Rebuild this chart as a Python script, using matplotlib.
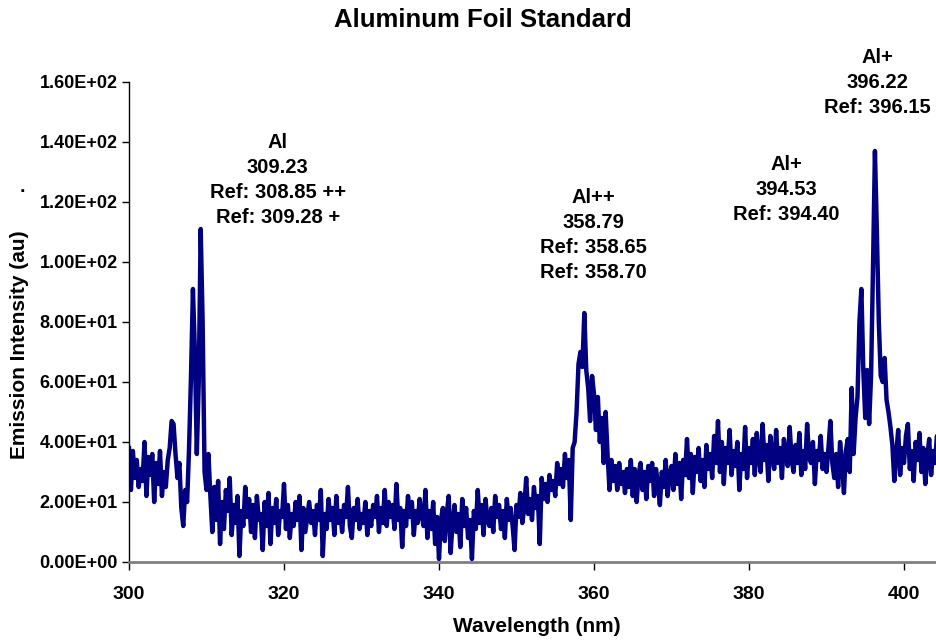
import numpy as np
import matplotlib
matplotlib.use("Agg")
import matplotlib.pyplot as plt
from matplotlib.ticker import FuncFormatter

# Spectrum, 0.25 nm steps from 300 to 405 nm
wl_start = 300.0
wl_step = 0.25
intensity = [
    38, 24, 37, 28, 34, 25, 31, 27, 40, 22, 35, 29, 36, 20, 33, 26, 37, 22, 30, 25,   # 300-304.75
    34, 38, 47, 46, 36, 28, 33, 18, 12, 24, 20, 38, 62, 91, 70, 36, 60, 111, 80, 30,  # 305-309.75
    24, 36, 22, 10, 25, 14, 27, 6, 20, 11, 24, 17, 28, 9, 19, 13, 22, 2, 17, 12,      # 310-314.75
    25, 15, 21, 10, 19, 8, 22, 14, 16, 4, 20, 12, 23, 6, 18, 13, 21, 9, 17, 15,       # 315-319.75
    26, 11, 19, 8, 16, 12, 20, 14, 22, 4, 18, 10, 15, 20, 13, 17, 9, 19, 14, 24,      # 320-324.75
    2, 16, 11, 21, 14, 18, 9, 22, 13, 17, 10, 19, 15, 25, 12, 8, 18, 14, 21, 11,      # 325-329.75
    16, 13, 20, 9, 17, 12, 19, 15, 22, 10, 18, 13, 24, 12, 20, 15, 19, 11, 26, 14,    # 330-334.75
    18, 5, 17, 12, 22, 15, 20, 9, 17, 13, 21, 16, 12, 24, 8, 17, 11, 20, 6, 15,       # 335-339.75
    1, 14, 18, 7, 16, 22, 3, 13, 19, 10, 16, 5, 21, 12, 18, 8, 14, 1, 17, 11,         # 340-344.75
    24, 13, 19, 9, 21, 14, 12, 18, 10, 22, 15, 19, 11, 17, 8, 21, 14, 18, 12, 4,      # 345-349.75
    19, 15, 23, 13, 18, 28, 16, 21, 14, 25, 18, 22, 6, 28, 21, 26, 20, 29, 24, 27,    # 350-354.75
    22, 33, 26, 31, 25, 36, 28, 34, 14, 38, 40, 50, 66, 70, 65, 83, 64, 58, 47, 62,   # 355-359.75
    56, 44, 55, 40, 48, 33, 50, 36, 24, 34, 27, 32, 24, 33, 26, 30, 23, 31, 25, 34,   # 360-364.75
    22, 31, 20, 29, 33, 24, 30, 21, 32, 27, 33, 22, 31, 26, 19, 30, 25, 34, 22, 29,   # 365-369.75
    32, 24, 36, 26, 33, 21, 34, 29, 41, 28, 36, 23, 35, 30, 38, 27, 34, 25, 39, 31,   # 370-374.75
    36, 28, 42, 33, 47, 30, 40, 26, 38, 33, 44, 29, 37, 32, 40, 24, 36, 31, 45, 28,   # 375-379.75
    38, 33, 41, 29, 43, 35, 30, 46, 34, 39, 27, 42, 35, 31, 44, 33, 38, 28, 41, 36,   # 380-384.75
    32, 45, 34, 30, 39, 33, 43, 29, 37, 31, 46, 35, 33, 40, 26, 37, 34, 42, 31, 36,   # 385-389.75
    30, 38, 47, 33, 28, 36, 25, 40, 33, 23, 37, 41, 30, 58, 36, 48, 55, 80, 91, 64,   # 390-394.75
    48, 64, 46, 62, 98, 137, 110, 80, 62, 60, 68, 54, 50, 45, 39, 27, 36, 44, 29, 38, # 395-399.75
    33, 42, 46, 31, 37, 27, 40, 34, 43, 30, 38, 26, 35, 41, 29, 37, 33, 42, 39, 44,   # 400-404.75
    46,                                                                                # 405
]
wavelength = wl_start + wl_step * np.arange(len(intensity))

y_ticks = [0, 20, 40, 60, 80, 100, 120, 140, 160]
x_ticks = [300, 320, 340, 360, 380, 400]

# peak labels: (x nm, y au, text)
peak_labels = [
    (319.2, 127.3, "Al\n309.23\nRef: 308.85 ++\nRef: 309.28 +"),
    (359.9, 109.0, "Al++\n358.79\nRef: 358.65\nRef: 358.70"),
    (384.8, 124.2, "Al+\n394.53\nRef: 394.40"),
    (396.6, 159.7, "Al+\n396.22\nRef: 396.15"),
]

plt.rcParams['font.family'] = ['Liberation Sans', 'DejaVu Sans']

W, H = 936, 640
fig = plt.figure(figsize=(W / 100, H / 100), dpi=100)
ax = fig.add_axes([129 / W, 78 / H, 807 / W, 480 / H])

ax.plot(wavelength, intensity, color='#000080', linewidth=3.2, solid_joinstyle='round')

ax.set_xlim(300, 300 + 807 / 7.75)
ax.set_ylim(0, 160)
ax.set_xticks(x_ticks)
ax.set_yticks(y_ticks)
ax.yaxis.set_major_formatter(FuncFormatter(lambda v, p: f"{v:.2E}"))

for lab in ax.get_xticklabels() + ax.get_yticklabels():
    lab.set_fontweight('bold')
ax.tick_params(axis='x', labelsize=14, direction='out', length=6, width=1, pad=11)
ax.tick_params(axis='y', labelsize=13, direction='out', length=5, width=1, pad=3)

ax.spines['top'].set_visible(False)
ax.spines['right'].set_visible(False)
ax.spines['bottom'].set_color('#808080')
ax.spines['bottom'].set_linewidth(2)
ax.spines['left'].set_linewidth(1)

fig.text(537 / W, 1 - 627 / H, 'Wavelength (nm)', fontsize=15, fontweight='bold',
         ha='center', va='center')
fig.text(20 / W, 1 - 345 / H, 'Emission Intensity (au)', fontsize=15, fontweight='bold',
         ha='center', va='center', rotation=90)
fig.text(22 / W, 1 - 188 / H, '.', fontsize=14, fontweight='bold', ha='center', va='center')
fig.text(483 / W, 1 - 20 / H, 'Aluminum Foil Standard', fontsize=18.5, fontweight='bold',
         ha='center', va='center')

for x, y, txt in peak_labels:
    ax.text(x, y, txt, ha='center', va='center', fontsize=14.5, fontweight='bold',
            linespacing=1.4, clip_on=False)

fig.savefig('out.png', dpi=100)
